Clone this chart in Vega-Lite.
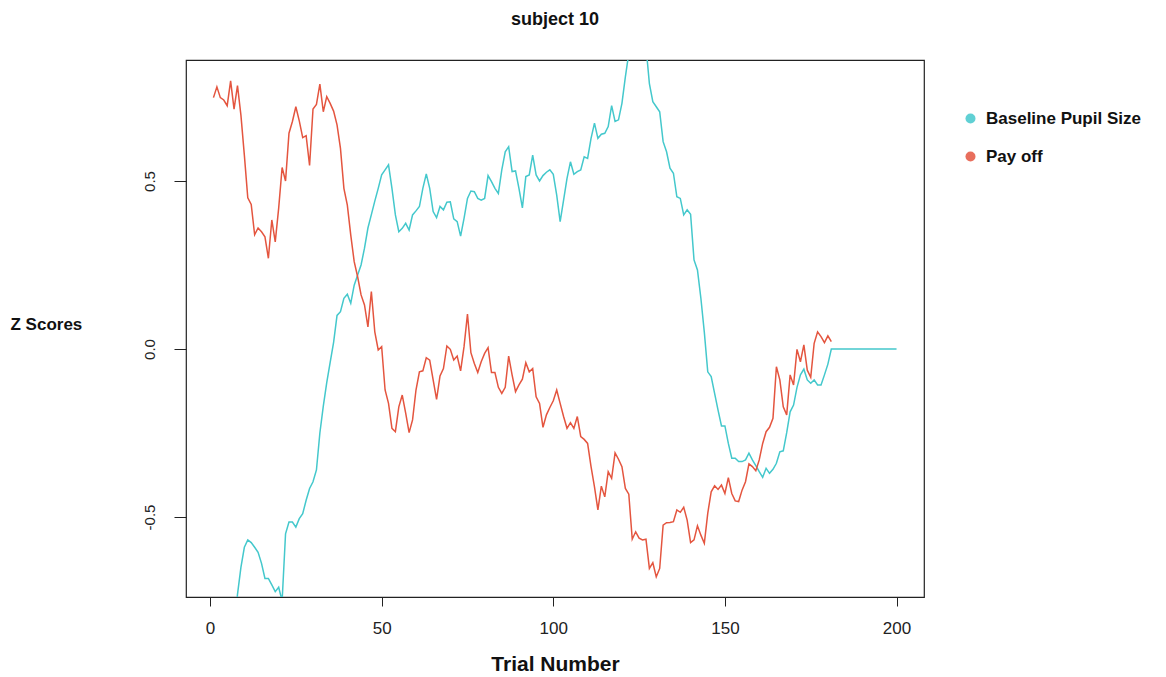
{
  "$schema": "https://vega.github.io/schema/vega-lite/v6.json",
  "autosize": {"type": "none"},
  "width": 738,
  "height": 537,
  "padding": {"left": 186, "top": 60, "right": 242, "bottom": 80},
  "background": "white",
  "config": {
    "view": {"stroke": "#222222", "strokeWidth": 1.2},
    "font": "Liberation Sans"
  },
  "title": {
    "text": "subject 10",
    "font": "Liberation Sans",
    "fontSize": 18,
    "fontWeight": "bold",
    "color": "#111111",
    "anchor": "middle",
    "frame": "group",
    "baseline": "alphabetic",
    "offset": 17
  },
  "data": {
    "values": [
      {"t":1,"Baseline Pupil Size":-0.92,"Pay off":0.748},
      {"t":2,"Baseline Pupil Size":-0.95,"Pay off":0.78},
      {"t":3,"Baseline Pupil Size":-0.9,"Pay off":0.748},
      {"t":4,"Baseline Pupil Size":-0.97,"Pay off":0.741},
      {"t":5,"Baseline Pupil Size":-0.93,"Pay off":0.724},
      {"t":6,"Baseline Pupil Size":-0.9,"Pay off":0.798},
      {"t":7,"Baseline Pupil Size":-0.86,"Pay off":0.714},
      {"t":8,"Baseline Pupil Size":-0.73,"Pay off":0.784},
      {"t":9,"Baseline Pupil Size":-0.65,"Pay off":0.696},
      {"t":10,"Baseline Pupil Size":-0.59,"Pay off":0.577},
      {"t":11,"Baseline Pupil Size":-0.568,"Pay off":0.45},
      {"t":12,"Baseline Pupil Size":-0.576,"Pay off":0.43},
      {"t":13,"Baseline Pupil Size":-0.59,"Pay off":0.34},
      {"t":14,"Baseline Pupil Size":-0.605,"Pay off":0.36},
      {"t":15,"Baseline Pupil Size":-0.638,"Pay off":0.349},
      {"t":16,"Baseline Pupil Size":-0.683,"Pay off":0.334},
      {"t":17,"Baseline Pupil Size":-0.683,"Pay off":0.27},
      {"t":18,"Baseline Pupil Size":-0.702,"Pay off":0.384},
      {"t":19,"Baseline Pupil Size":-0.722,"Pay off":0.319},
      {"t":20,"Baseline Pupil Size":-0.709,"Pay off":0.419},
      {"t":21,"Baseline Pupil Size":-0.75,"Pay off":0.54},
      {"t":22,"Baseline Pupil Size":-0.55,"Pay off":0.5},
      {"t":23,"Baseline Pupil Size":-0.515,"Pay off":0.642},
      {"t":24,"Baseline Pupil Size":-0.515,"Pay off":0.677},
      {"t":25,"Baseline Pupil Size":-0.53,"Pay off":0.721},
      {"t":26,"Baseline Pupil Size":-0.505,"Pay off":0.679},
      {"t":27,"Baseline Pupil Size":-0.49,"Pay off":0.629},
      {"t":28,"Baseline Pupil Size":-0.45,"Pay off":0.635},
      {"t":29,"Baseline Pupil Size":-0.415,"Pay off":0.546},
      {"t":30,"Baseline Pupil Size":-0.395,"Pay off":0.714},
      {"t":31,"Baseline Pupil Size":-0.36,"Pay off":0.728},
      {"t":32,"Baseline Pupil Size":-0.25,"Pay off":0.788},
      {"t":33,"Baseline Pupil Size":-0.17,"Pay off":0.706},
      {"t":34,"Baseline Pupil Size":-0.1,"Pay off":0.751},
      {"t":35,"Baseline Pupil Size":-0.04,"Pay off":0.731},
      {"t":36,"Baseline Pupil Size":0.02,"Pay off":0.708},
      {"t":37,"Baseline Pupil Size":0.1,"Pay off":0.667},
      {"t":38,"Baseline Pupil Size":0.111,"Pay off":0.597},
      {"t":39,"Baseline Pupil Size":0.151,"Pay off":0.478},
      {"t":40,"Baseline Pupil Size":0.163,"Pay off":0.428},
      {"t":41,"Baseline Pupil Size":0.136,"Pay off":0.339},
      {"t":42,"Baseline Pupil Size":0.19,"Pay off":0.26},
      {"t":43,"Baseline Pupil Size":0.22,"Pay off":0.215},
      {"t":44,"Baseline Pupil Size":0.25,"Pay off":0.161},
      {"t":45,"Baseline Pupil Size":0.3,"Pay off":0.131},
      {"t":46,"Baseline Pupil Size":0.36,"Pay off":0.066},
      {"t":47,"Baseline Pupil Size":0.4,"Pay off":0.171},
      {"t":48,"Baseline Pupil Size":0.44,"Pay off":0.051},
      {"t":49,"Baseline Pupil Size":0.478,"Pay off":-0.003},
      {"t":50,"Baseline Pupil Size":0.518,"Pay off":0.007},
      {"t":51,"Baseline Pupil Size":0.533,"Pay off":-0.122},
      {"t":52,"Baseline Pupil Size":0.548,"Pay off":-0.162},
      {"t":53,"Baseline Pupil Size":0.478,"Pay off":-0.236},
      {"t":54,"Baseline Pupil Size":0.399,"Pay off":-0.246},
      {"t":55,"Baseline Pupil Size":0.349,"Pay off":-0.172},
      {"t":56,"Baseline Pupil Size":0.359,"Pay off":-0.137},
      {"t":57,"Baseline Pupil Size":0.374,"Pay off":-0.191},
      {"t":58,"Baseline Pupil Size":0.354,"Pay off":-0.249},
      {"t":59,"Baseline Pupil Size":0.399,"Pay off":-0.211},
      {"t":60,"Baseline Pupil Size":0.411,"Pay off":-0.122},
      {"t":61,"Baseline Pupil Size":0.424,"Pay off":-0.068},
      {"t":62,"Baseline Pupil Size":0.478,"Pay off":-0.065},
      {"t":63,"Baseline Pupil Size":0.521,"Pay off":-0.026},
      {"t":64,"Baseline Pupil Size":0.478,"Pay off":-0.033},
      {"t":65,"Baseline Pupil Size":0.409,"Pay off":-0.092},
      {"t":66,"Baseline Pupil Size":0.391,"Pay off":-0.15},
      {"t":67,"Baseline Pupil Size":0.424,"Pay off":-0.08},
      {"t":68,"Baseline Pupil Size":0.414,"Pay off":-0.058},
      {"t":69,"Baseline Pupil Size":0.437,"Pay off":0.009},
      {"t":70,"Baseline Pupil Size":0.438,"Pay off":-0.001},
      {"t":71,"Baseline Pupil Size":0.387,"Pay off":-0.033},
      {"t":72,"Baseline Pupil Size":0.379,"Pay off":-0.021},
      {"t":73,"Baseline Pupil Size":0.336,"Pay off":-0.065},
      {"t":74,"Baseline Pupil Size":0.389,"Pay off":0.007},
      {"t":75,"Baseline Pupil Size":0.448,"Pay off":0.104},
      {"t":76,"Baseline Pupil Size":0.47,"Pay off":-0.011},
      {"t":77,"Baseline Pupil Size":0.468,"Pay off":-0.043},
      {"t":78,"Baseline Pupil Size":0.448,"Pay off":-0.07},
      {"t":79,"Baseline Pupil Size":0.443,"Pay off":-0.038},
      {"t":80,"Baseline Pupil Size":0.448,"Pay off":-0.013},
      {"t":81,"Baseline Pupil Size":0.516,"Pay off":0.004},
      {"t":82,"Baseline Pupil Size":0.498,"Pay off":-0.07},
      {"t":83,"Baseline Pupil Size":0.478,"Pay off":-0.07},
      {"t":84,"Baseline Pupil Size":0.463,"Pay off":-0.114},
      {"t":85,"Baseline Pupil Size":0.533,"Pay off":-0.132},
      {"t":86,"Baseline Pupil Size":0.587,"Pay off":-0.114},
      {"t":87,"Baseline Pupil Size":0.602,"Pay off":-0.021},
      {"t":88,"Baseline Pupil Size":0.528,"Pay off":-0.077},
      {"t":89,"Baseline Pupil Size":0.53,"Pay off":-0.127},
      {"t":90,"Baseline Pupil Size":0.478,"Pay off":-0.107},
      {"t":91,"Baseline Pupil Size":0.42,"Pay off":-0.09},
      {"t":92,"Baseline Pupil Size":0.513,"Pay off":-0.041},
      {"t":93,"Baseline Pupil Size":0.518,"Pay off":-0.068},
      {"t":94,"Baseline Pupil Size":0.577,"Pay off":-0.058},
      {"t":95,"Baseline Pupil Size":0.518,"Pay off":-0.142},
      {"t":96,"Baseline Pupil Size":0.5,"Pay off":-0.162},
      {"t":97,"Baseline Pupil Size":0.516,"Pay off":-0.233},
      {"t":98,"Baseline Pupil Size":0.526,"Pay off":-0.196},
      {"t":99,"Baseline Pupil Size":0.533,"Pay off":-0.174},
      {"t":100,"Baseline Pupil Size":0.52,"Pay off":-0.154},
      {"t":101,"Baseline Pupil Size":0.458,"Pay off":-0.122},
      {"t":102,"Baseline Pupil Size":0.379,"Pay off":-0.162},
      {"t":103,"Baseline Pupil Size":0.443,"Pay off":-0.201},
      {"t":104,"Baseline Pupil Size":0.508,"Pay off":-0.236},
      {"t":105,"Baseline Pupil Size":0.557,"Pay off":-0.219},
      {"t":106,"Baseline Pupil Size":0.52,"Pay off":-0.236},
      {"t":107,"Baseline Pupil Size":0.528,"Pay off":-0.201},
      {"t":108,"Baseline Pupil Size":0.533,"Pay off":-0.261},
      {"t":109,"Baseline Pupil Size":0.572,"Pay off":-0.269},
      {"t":110,"Baseline Pupil Size":0.567,"Pay off":-0.281},
      {"t":111,"Baseline Pupil Size":0.627,"Pay off":-0.35},
      {"t":112,"Baseline Pupil Size":0.672,"Pay off":-0.41},
      {"t":113,"Baseline Pupil Size":0.627,"Pay off":-0.479},
      {"t":114,"Baseline Pupil Size":0.639,"Pay off":-0.408},
      {"t":115,"Baseline Pupil Size":0.642,"Pay off":-0.44},
      {"t":116,"Baseline Pupil Size":0.662,"Pay off":-0.365},
      {"t":117,"Baseline Pupil Size":0.724,"Pay off":-0.385},
      {"t":118,"Baseline Pupil Size":0.677,"Pay off":-0.309},
      {"t":119,"Baseline Pupil Size":0.682,"Pay off":-0.328},
      {"t":120,"Baseline Pupil Size":0.731,"Pay off":-0.35},
      {"t":121,"Baseline Pupil Size":0.81,"Pay off":-0.415},
      {"t":122,"Baseline Pupil Size":0.88,"Pay off":-0.432},
      {"t":123,"Baseline Pupil Size":0.93,"Pay off":-0.566},
      {"t":124,"Baseline Pupil Size":0.96,"Pay off":-0.544},
      {"t":125,"Baseline Pupil Size":0.94,"Pay off":-0.563},
      {"t":126,"Baseline Pupil Size":0.97,"Pay off":-0.568},
      {"t":127,"Baseline Pupil Size":0.9,"Pay off":-0.566},
      {"t":128,"Baseline Pupil Size":0.79,"Pay off":-0.653},
      {"t":129,"Baseline Pupil Size":0.736,"Pay off":-0.636},
      {"t":130,"Baseline Pupil Size":0.721,"Pay off":-0.678},
      {"t":131,"Baseline Pupil Size":0.706,"Pay off":-0.653},
      {"t":132,"Baseline Pupil Size":0.617,"Pay off":-0.524},
      {"t":133,"Baseline Pupil Size":0.587,"Pay off":-0.517},
      {"t":134,"Baseline Pupil Size":0.538,"Pay off":-0.516},
      {"t":135,"Baseline Pupil Size":0.523,"Pay off":-0.514},
      {"t":136,"Baseline Pupil Size":0.453,"Pay off":-0.479},
      {"t":137,"Baseline Pupil Size":0.448,"Pay off":-0.486},
      {"t":138,"Baseline Pupil Size":0.399,"Pay off":-0.471},
      {"t":139,"Baseline Pupil Size":0.414,"Pay off":-0.509},
      {"t":140,"Baseline Pupil Size":0.401,"Pay off":-0.576},
      {"t":141,"Baseline Pupil Size":0.265,"Pay off":-0.568},
      {"t":142,"Baseline Pupil Size":0.235,"Pay off":-0.526},
      {"t":143,"Baseline Pupil Size":0.151,"Pay off":-0.554},
      {"t":144,"Baseline Pupil Size":0.05,"Pay off":-0.578},
      {"t":145,"Baseline Pupil Size":-0.068,"Pay off":-0.489},
      {"t":146,"Baseline Pupil Size":-0.082,"Pay off":-0.425},
      {"t":147,"Baseline Pupil Size":-0.132,"Pay off":-0.407},
      {"t":148,"Baseline Pupil Size":-0.182,"Pay off":-0.418},
      {"t":149,"Baseline Pupil Size":-0.229,"Pay off":-0.405},
      {"t":150,"Baseline Pupil Size":-0.229,"Pay off":-0.43},
      {"t":151,"Baseline Pupil Size":-0.281,"Pay off":-0.383},
      {"t":152,"Baseline Pupil Size":-0.325,"Pay off":-0.43},
      {"t":153,"Baseline Pupil Size":-0.325,"Pay off":-0.452},
      {"t":154,"Baseline Pupil Size":-0.335,"Pay off":-0.454},
      {"t":155,"Baseline Pupil Size":-0.335,"Pay off":-0.42},
      {"t":156,"Baseline Pupil Size":-0.33,"Pay off":-0.395},
      {"t":157,"Baseline Pupil Size":-0.31,"Pay off":-0.342},
      {"t":158,"Baseline Pupil Size":-0.33,"Pay off":-0.35},
      {"t":159,"Baseline Pupil Size":-0.347,"Pay off":-0.362},
      {"t":160,"Baseline Pupil Size":-0.365,"Pay off":-0.33},
      {"t":161,"Baseline Pupil Size":-0.382,"Pay off":-0.281},
      {"t":162,"Baseline Pupil Size":-0.355,"Pay off":-0.246},
      {"t":163,"Baseline Pupil Size":-0.37,"Pay off":-0.233},
      {"t":164,"Baseline Pupil Size":-0.358,"Pay off":-0.206},
      {"t":165,"Baseline Pupil Size":-0.34,"Pay off":-0.053},
      {"t":166,"Baseline Pupil Size":-0.306,"Pay off":-0.092},
      {"t":167,"Baseline Pupil Size":-0.303,"Pay off":-0.172},
      {"t":168,"Baseline Pupil Size":-0.249,"Pay off":-0.196},
      {"t":169,"Baseline Pupil Size":-0.187,"Pay off":-0.077},
      {"t":170,"Baseline Pupil Size":-0.167,"Pay off":-0.107},
      {"t":171,"Baseline Pupil Size":-0.114,"Pay off":-0.001},
      {"t":172,"Baseline Pupil Size":-0.077,"Pay off":-0.038},
      {"t":173,"Baseline Pupil Size":-0.06,"Pay off":0.012},
      {"t":174,"Baseline Pupil Size":-0.092,"Pay off":-0.063},
      {"t":175,"Baseline Pupil Size":-0.102,"Pay off":-0.084},
      {"t":176,"Baseline Pupil Size":-0.092,"Pay off":0.017},
      {"t":177,"Baseline Pupil Size":-0.107,"Pay off":0.051},
      {"t":178,"Baseline Pupil Size":-0.107,"Pay off":0.037},
      {"t":179,"Baseline Pupil Size":-0.077,"Pay off":0.019},
      {"t":180,"Baseline Pupil Size":-0.045,"Pay off":0.039},
      {"t":181,"Baseline Pupil Size":0,"Pay off":0.022},
      {"t":182,"Baseline Pupil Size":0},
      {"t":183,"Baseline Pupil Size":0},
      {"t":184,"Baseline Pupil Size":0},
      {"t":185,"Baseline Pupil Size":0},
      {"t":186,"Baseline Pupil Size":0},
      {"t":187,"Baseline Pupil Size":0},
      {"t":188,"Baseline Pupil Size":0},
      {"t":189,"Baseline Pupil Size":0},
      {"t":190,"Baseline Pupil Size":0},
      {"t":191,"Baseline Pupil Size":0},
      {"t":192,"Baseline Pupil Size":0},
      {"t":193,"Baseline Pupil Size":0},
      {"t":194,"Baseline Pupil Size":0},
      {"t":195,"Baseline Pupil Size":0},
      {"t":196,"Baseline Pupil Size":0},
      {"t":197,"Baseline Pupil Size":0},
      {"t":198,"Baseline Pupil Size":0},
      {"t":199,"Baseline Pupil Size":0},
      {"t":200,"Baseline Pupil Size":0}
    ]
  },
  "transform": [
    {"fold": ["Baseline Pupil Size", "Pay off"], "as": ["series", "z"]},
    {"filter": "isValid(datum.z)"}
  ],
  "mark": {"type": "line", "strokeWidth": 1.5, "clip": true},
  "encoding": {
    "x": {
      "field": "t",
      "type": "quantitative",
      "scale": {"domain": [-7, 208], "nice": false, "zero": false},
      "axis": {
        "title": "Trial Number",
        "values": [0, 50, 100, 150, 200],
        "grid": false,
        "domain": false,
        "tickSize": 9,
        "tickColor": "#222222",
        "labelFont": "Liberation Sans",
        "labelFontSize": 17,
        "labelColor": "#222222",
        "labelPadding": 14,
        "titleFont": "Liberation Sans",
        "titleFontSize": 21,
        "titleFontWeight": "bold",
        "titleColor": "#111111",
        "titleBaseline": "middle",
        "titleY": 67
      }
    },
    "y": {
      "field": "z",
      "type": "quantitative",
      "scale": {"domain": [-0.738, 0.86], "nice": false, "zero": false},
      "axis": {
        "title": "Z Scores",
        "values": [-0.5, 0, 0.5],
        "labelExpr": "replace(format(datum.value, '.1f'), '\u2212', '-')",
        "grid": false,
        "domain": false,
        "tickSize": 12,
        "tickColor": "#222222",
        "labelAngle": 270,
        "labelAlign": "center",
        "labelBaseline": "bottom",
        "labelFont": "Liberation Sans",
        "labelFontSize": 15,
        "labelColor": "#222222",
        "labelPadding": 17,
        "titleFont": "Liberation Sans",
        "titleFontSize": 17,
        "titleFontWeight": "bold",
        "titleColor": "#111111",
        "titleAngle": 0,
        "titleAlign": "left",
        "titleBaseline": "middle",
        "titleX": -176,
        "titleY": 264
      }
    },
    "color": {
      "field": "series",
      "type": "nominal",
      "scale": {"domain": ["Baseline Pupil Size", "Pay off"], "range": ["#44c8cc", "#e4553f"]},
      "legend": {
        "title": null,
        "orient": "none",
        "legendX": 776,
        "legendY": 50,
        "padding": 0,
        "symbolType": "circle",
        "symbolSize": 100,
        "labelFont": "Liberation Sans",
        "labelFontSize": 17,
        "labelFontWeight": "bold",
        "labelColor": "#111111",
        "labelOffset": 7,
        "rowPadding": 20,
        "encode": {
          "symbols": {
            "update": {
              "fill": {"scale": "color", "field": "value"},
              "fillOpacity": {"value": 0.85},
              "strokeWidth": {"value": 0}
            }
          }
        }
      }
    }
  }
}
